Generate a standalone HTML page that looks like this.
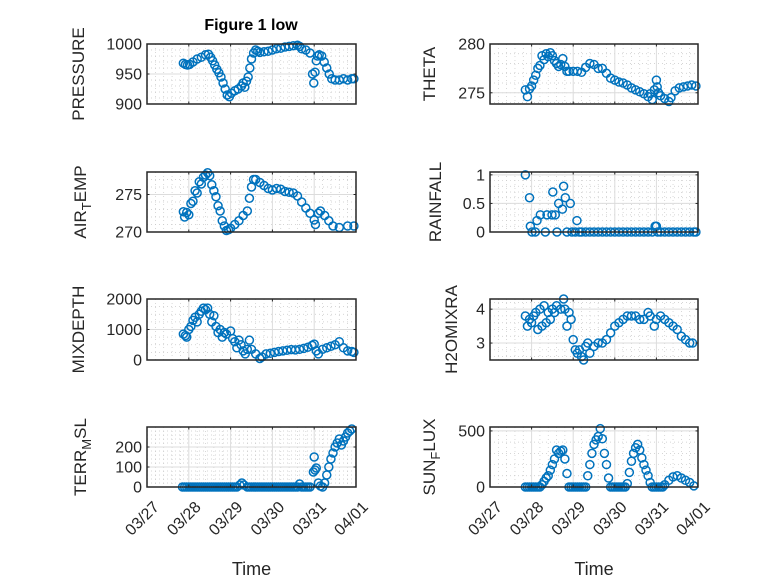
<!DOCTYPE html>
<html><head><meta charset="utf-8"><style>
html,body{margin:0;padding:0;background:#fff;}
svg{display:block;font-family:"Liberation Sans","DejaVu Sans",sans-serif;}
</style></head><body>
<svg id="fig" width="778" height="583" viewBox="0 0 778 583" xmlns="http://www.w3.org/2000/svg">
<rect width="778" height="583" fill="#fff"/>
<text x="251" y="30" text-anchor="middle" font-weight="bold" font-size="16" fill="#000">Figure 1 low</text>
</svg>
<script>
// ---- data (t = days since 03/27) ----
const dateTicks = ["03/27","03/28","03/29","03/30","03/31","04/01"];
const pressT = [0.87,0.92,0.97,1.02,1.1,1.2,1.3,1.4,1.47,1.52,1.57,1.62,1.67,1.72,1.77,1.82,1.87,1.92,1.97,2.02,2.1,2.18,2.26,2.3,2.34,2.38,2.42,2.46,2.5,2.55,2.6,2.65,2.7,2.8,2.9,3.0,3.1,3.2,3.3,3.4,3.5,3.6,3.65,3.7,3.8,3.9,3.96,3.99,4.02,4.05,4.08,4.12,4.18,4.24,4.3,4.36,4.42,4.5,4.6,4.7,4.8,4.9,4.95];
const pressV = [968,966,965,966,970,975,978,982,983,978,972,965,958,952,945,935,925,915,912,918,922,925,930,935,928,938,945,960,975,985,990,988,986,987,988,990,992,993,995,996,997,998,996,992,990,985,950,935,953,972,980,982,980,970,960,950,942,940,940,942,940,942,942];
const thetaT = [0.85,0.9,0.95,1.0,1.05,1.1,1.15,1.2,1.25,1.3,1.35,1.4,1.45,1.5,1.55,1.6,1.65,1.7,1.75,1.8,1.85,1.9,2.0,2.1,2.2,2.3,2.4,2.5,2.6,2.7,2.8,2.9,3.0,3.1,3.2,3.3,3.4,3.5,3.6,3.7,3.8,3.85,3.9,3.95,4.0,4.02,4.05,4.1,4.2,4.3,4.35,4.45,4.55,4.65,4.75,4.85,4.95];
const thetaV = [275.3,274.6,275.4,275.7,276.3,276.8,277.5,277.8,278.8,278.4,279,278.7,279.1,278.8,278.3,278,277.7,277.9,278.5,277.7,277.2,277.2,277.2,277.2,277.1,277.6,278,277.9,277.5,277.5,277,276.5,276.3,276.1,276,275.8,275.5,275.3,275.1,274.9,274.6,274.9,274.3,275.3,276.3,275.6,275,274.7,274.4,274.1,274.5,275.2,275.5,275.6,275.7,275.8,275.7];
const airT = [0.87,0.9,0.95,1.0,1.05,1.1,1.15,1.2,1.25,1.3,1.35,1.4,1.45,1.5,1.55,1.6,1.65,1.7,1.75,1.8,1.85,1.9,1.95,2.0,2.1,2.2,2.3,2.4,2.45,2.5,2.55,2.6,2.7,2.8,2.9,3.0,3.1,3.2,3.3,3.4,3.5,3.6,3.7,3.8,3.9,4.0,4.03,4.1,4.15,4.25,4.35,4.45,4.6,4.8,4.95];
const airV = [272.7,272,272.6,272.3,273.8,274.1,275.5,275.2,276.7,276.4,277.3,277.6,277.9,277.5,276.3,275.5,274.7,273.5,272.8,271.5,270.8,270.2,270.3,270.5,271,271.5,272.2,272.8,274.5,276,277,277,276.6,276.2,275.8,275.6,275.8,275.7,275.4,275.3,275.2,274.8,274,273.2,272.5,271.6,271,272.5,272.8,272.2,271.5,270.8,270.6,270.8,270.8];
const rainT = [0.85,0.95,0.97,1.01,1.09,1.13,1.21,1.33,1.37,1.49,1.51,1.57,1.61,1.65,1.74,1.77,1.81,1.85,1.93,1.97,2.09,2.05,2.15,2.2,2.3,2.4,2.5,2.6,2.7,2.8,2.9,3.0,3.1,3.2,3.3,3.4,3.5,3.6,3.7,3.8,3.9,3.97,4.0,4.03,4.1,4.2,4.3,4.4,4.5,4.6,4.7,4.8,4.9,4.95];
const rainV = [1,0.6,0.1,0,0,0.2,0.3,0,0.3,0.3,0.7,0.3,0,0.5,0.4,0.8,0.6,0,0.5,0,0.2,0,0,0,0,0,0,0,0,0,0,0,0,0,0,0,0,0,0,0,0,0.1,0.1,0,0,0,0,0,0,0,0,0,0,0];
const mixT = [0.87,0.92,0.95,1.0,1.05,1.1,1.15,1.2,1.25,1.3,1.35,1.4,1.45,1.5,1.55,1.6,1.65,1.7,1.75,1.8,1.85,1.9,2.0,2.05,2.1,2.15,2.2,2.25,2.3,2.35,2.4,2.45,2.5,2.6,2.7,2.75,2.85,2.95,3.05,3.15,3.25,3.35,3.45,3.55,3.65,3.75,3.85,3.95,4.0,4.05,4.1,4.2,4.3,4.4,4.5,4.6,4.7,4.8,4.9,4.95];
const mixV = [850,800,750,1000,1100,1300,1400,1250,1500,1600,1700,1650,1700,1500,1250,1450,1100,900,1000,750,900,850,950,700,600,400,650,500,300,200,350,650,350,200,50,100,200,220,250,280,300,320,340,330,350,380,420,480,520,300,200,350,400,450,500,600,400,300,280,250];
const h2oT = [0.85,0.9,0.95,1.0,1.05,1.1,1.15,1.2,1.25,1.3,1.35,1.4,1.45,1.5,1.55,1.6,1.7,1.77,1.8,1.85,1.9,1.95,2.0,2.05,2.1,2.15,2.2,2.25,2.3,2.35,2.4,2.5,2.6,2.7,2.8,2.9,3.0,3.1,3.2,3.3,3.4,3.5,3.6,3.7,3.8,3.85,3.95,4.0,4.1,4.2,4.3,4.4,4.5,4.6,4.7,4.8,4.87];
const h2oV = [3.8,3.5,3.7,3.6,3.8,3.9,3.4,4.0,3.5,4.1,3.6,3.9,3.7,4.0,3.9,4.1,4.0,4.3,4.0,3.5,3.9,3.7,3.1,2.8,2.7,2.8,2.6,2.5,2.9,3.0,2.7,2.9,3.0,3.0,3.1,3.3,3.5,3.6,3.7,3.8,3.8,3.8,3.7,3.7,3.9,3.8,3.5,3.7,3.8,3.7,3.6,3.5,3.4,3.2,3.1,3.0,3.0];
const terrT = [0.85,0.9,0.95,1.0,1.05,1.1,1.15,1.2,1.25,1.3,1.35,1.4,1.45,1.5,1.55,1.6,1.65,1.7,1.75,1.8,1.85,1.9,1.95,2.0,2.05,2.1,2.15,2.22,2.27,2.32,2.4,2.45,2.5,2.55,2.6,2.65,2.7,2.75,2.8,2.85,2.9,2.95,3.0,3.05,3.1,3.15,3.2,3.25,3.3,3.35,3.4,3.45,3.5,3.55,3.6,3.65,3.7,3.75,3.8,3.85,3.9,3.98,4.0,4.02,4.05,4.1,4.15,4.2,4.25,4.3,4.35,4.4,4.45,4.5,4.55,4.6,4.65,4.7,4.75,4.8,4.85,4.9];
const terrV = [0,0,0,0,0,0,0,0,0,0,0,0,0,0,0,0,0,0,0,0,0,0,0,0,0,0,0,10,20,10,0,0,0,0,0,0,0,0,0,0,0,0,0,0,0,0,0,0,0,0,0,0,0,0,0,15,0,0,0,0,0,75,150,85,95,20,5,0,20,60,100,140,170,200,220,240,210,230,250,270,280,290];
const sunT = [0.85,0.9,0.95,1.0,1.05,1.1,1.15,1.2,1.25,1.3,1.35,1.4,1.45,1.5,1.55,1.6,1.65,1.7,1.75,1.8,1.85,1.9,1.95,2.0,2.05,2.1,2.15,2.2,2.25,2.3,2.35,2.4,2.45,2.5,2.55,2.6,2.65,2.7,2.75,2.8,2.85,2.9,2.95,3.0,3.05,3.1,3.15,3.2,3.25,3.3,3.35,3.4,3.45,3.5,3.55,3.6,3.65,3.7,3.75,3.8,3.85,3.9,3.95,4.0,4.05,4.1,4.15,4.2,4.3,4.4,4.5,4.6,4.7,4.8,4.9];
const sunV = [0,0,0,0,0,0,0,0,20,50,80,100,150,200,250,330,300,320,330,250,120,0,0,0,0,0,0,0,0,0,100,200,300,380,420,450,520,430,300,200,80,0,0,0,0,0,0,0,0,30,130,230,300,350,380,330,260,200,150,100,40,0,0,0,0,0,0,20,60,90,100,80,60,40,10];

const NS="http://www.w3.org/2000/svg";
const svg=document.getElementById('fig');
function mk(tag,attrs,parent){const e=document.createElementNS(NS,tag);for(const k in attrs)e.setAttribute(k,attrs[k]);(parent||svg).appendChild(e);return e;}

const cols=[{x0:147,x1:356},{x0:490,x1:698}];
const rows=[{y0:44,y1:104},{y0:172,y1:232},{y0:299,y1:360},{y0:427,y1:487}];

function panel(name,col,row,T,V,ymin,ymax,yticks,ylabelParts,minorStep,showDates,labelX){
  const c=cols[col],r=rows[row];
  const g=mk('g',{});
  
  
  const sx=t=>c.x0+(t/5)*(c.x1-c.x0);
  const sy=v=>r.y1-(v-ymin)/(ymax-ymin)*(r.y1-r.y0);
  mk('rect',{x:c.x0,y:r.y0,width:c.x1-c.x0,height:r.y1-r.y0,fill:'#fff'},g);
  for(let d=0;d<5;d++)for(let k=1;k<5;k++){const x=sx(d+k/5);mk('line',{x1:x,x2:x,y1:r.y0,y2:r.y1,stroke:'#c8c8c8','stroke-width':0.7,'stroke-dasharray':'1 3'},g);}
  for(let v=Math.ceil(ymin/minorStep)*minorStep;v<=ymax;v+=minorStep){const y=sy(v);mk('line',{x1:c.x0,x2:c.x1,y1:y,y2:y,stroke:'#c8c8c8','stroke-width':0.7,'stroke-dasharray':'1 3'},g);}
  for(let d=1;d<5;d++){const x=sx(d);mk('line',{x1:x,x2:x,y1:r.y0,y2:r.y1,stroke:'#dcdcdc','stroke-width':1},g);}
  yticks.forEach(v=>{const y=sy(v);mk('line',{x1:c.x0,x2:c.x1,y1:y,y2:y,stroke:'#dcdcdc','stroke-width':1},g);});
  const pts=mk('g',{},g);
  
  
  T.forEach((t,i)=>{const p=mk('circle',{cx:sx(t),cy:sy(V[i]),r:4,fill:'none',stroke:'#0072BD','stroke-width':1.5},pts);
    
    });
  mk('rect',{x:c.x0,y:r.y0,width:c.x1-c.x0,height:r.y1-r.y0,fill:'none',stroke:'#262626','stroke-width':1.5},g);
  for(let d=0;d<=5;d++){const x=sx(d);mk('line',{x1:x,x2:x,y1:r.y1,y2:r.y1-2.5,stroke:'#262626','stroke-width':1},g);mk('line',{x1:x,x2:x,y1:r.y0,y2:r.y0+2.5,stroke:'#262626','stroke-width':1},g);}
  yticks.forEach(v=>{const y=sy(v);
    mk('line',{x1:c.x0,x2:c.x0+2.5,y1:y,y2:y,stroke:'#262626'},g);
    mk('line',{x1:c.x1,x2:c.x1-2.5,y1:y,y2:y,stroke:'#262626'},g);
    const tl=mk('text',{x:c.x0-5,y:y+5.5,'text-anchor':'end','font-size':16,fill:'#262626'},g);
    tl.textContent=String(v);
    
    
  });
  const cy=(r.y0+r.y1)/2;
  const yl=mk('text',{x:0,y:0,transform:`translate(${labelX},${cy}) rotate(-90)`,'text-anchor':'middle','font-size':17,fill:'#262626'},g);
  
  
  ylabelParts.forEach(p=>{const ts=mk('tspan',{},yl);ts.textContent=p[0];
    if(p[1]==='sub'){ts.setAttribute('font-size',13);ts.setAttribute('dy',5);} else if(p[1]==='after'){ts.setAttribute('dy',-5);} });
  if(showDates){
    dateTicks.forEach((lab,d)=>{const x=sx(d);
      const tl=mk('text',{x:0,y:0,transform:`translate(${x+13},${r.y1+21}) rotate(-45)`,'text-anchor':'end','font-size':16,fill:'#262626'},g);
      tl.textContent=lab;
      
      });
    const xt=mk('text',{x:(c.x0+c.x1)/2,y:575,'text-anchor':'middle','font-size':18,fill:'#262626'},g);
    xt.textContent='Time';
    
    
  }
}
panel('pressure',0,0,pressT,pressV,900,1000,[900,950,1000],[['PRESSURE']],10,false,84);
panel('theta',1,0,thetaT,thetaV,273.85,280,[275,280],[['THETA']],1,false,435);
panel('air-temp',0,1,airT,airV,270,278,[270,275],[['AIR'],['T','sub'],['EMP','after']],1,false,86);
panel('rainfall',1,1,rainT,rainV,0,1.05,[0,0.5,1],[['RAINFALL']],0.1,false,441);
panel('mixdepth',0,2,mixT,mixV,0,2000,[0,1000,2000],[['MIXDEPTH']],250,false,84);
panel('h2omixra',1,2,h2oT,h2oV,2.5,4.3,[3,4],[['H2OMIXRA']],0.2,false,457);
panel('terr-msl',0,3,terrT,terrV,0,300,[0,100,200],[['TERR'],['M','sub'],['SL','after']],20,true,86);
panel('sun-flux',1,3,sunT,sunV,0,535,[0,500],[['SUN'],['F','sub'],['LUX','after']],100,true,435);
</script>
</body></html>
